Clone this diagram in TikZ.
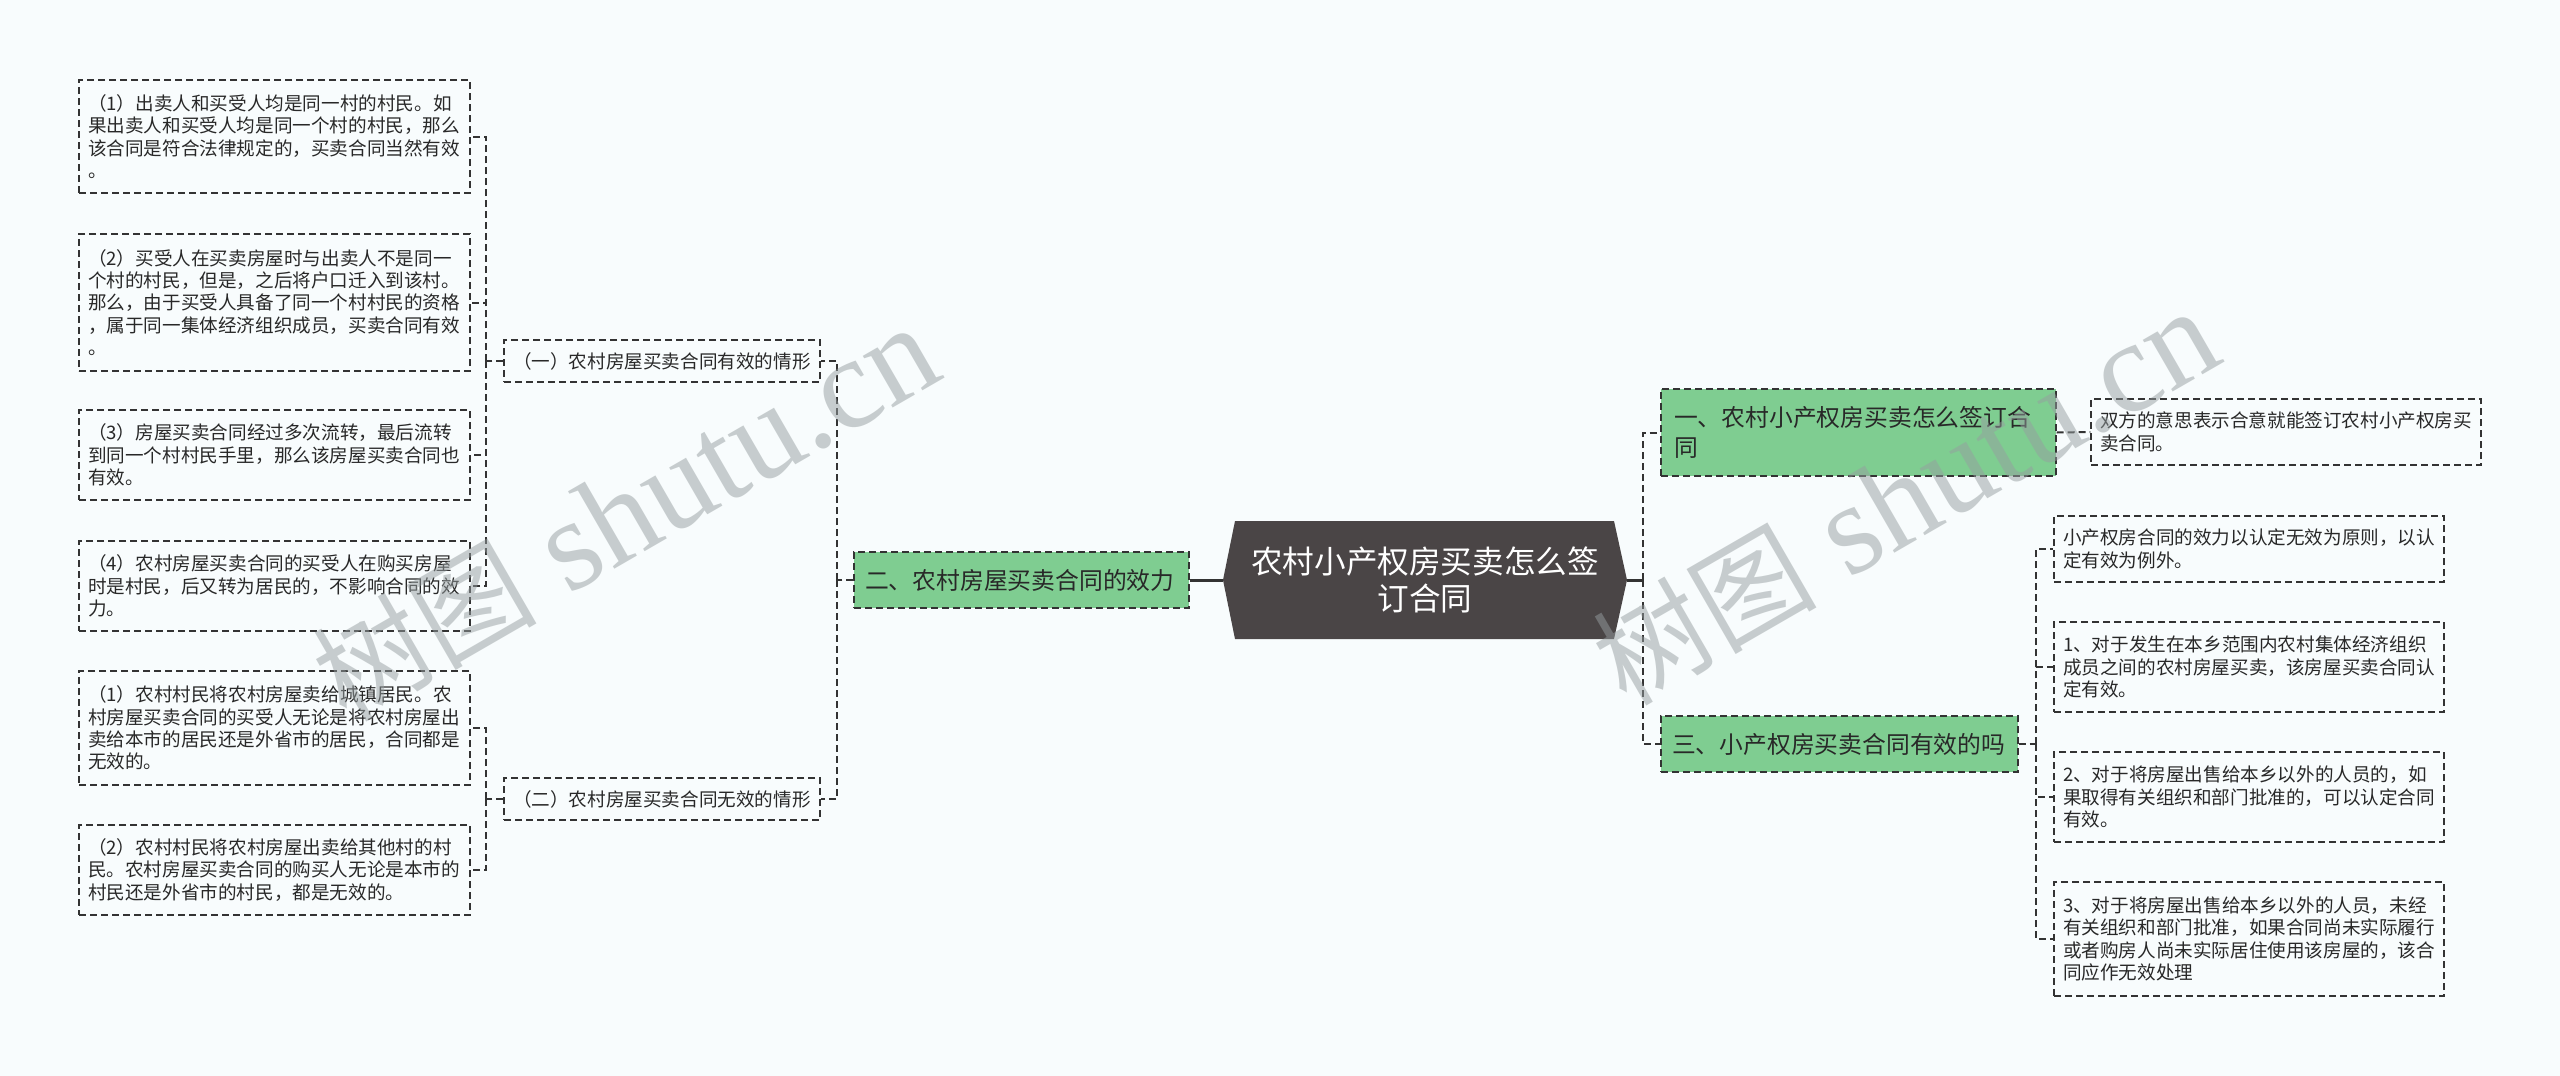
\documentclass[tikz,border=0pt]{standalone}
\usepackage{fontspec}
\setmainfont{Noto Sans CJK SC}
\newfontfamily\wmserif{Liberation Serif}
\newfontfamily\wmcjk{Noto Sans CJK SC}
\definecolor{bgc}{RGB}{248,252,253}
\definecolor{linec}{RGB}{51,51,51}
\definecolor{txtc}{RGB}{40,40,40}
\definecolor{greenc}{RGB}{127,205,145}
\definecolor{rootc}{RGB}{74,69,70}
\definecolor{wmc}{RGB}{150,158,160}
\begin{document}
\begin{tikzpicture}[x=0.5pt,y=-0.5pt,
  dsh/.style={dash pattern=on 3.5pt off 2pt},
  box/.style={draw=linec, dsh, line width=0.7pt, text=txtc, align=left, inner ysep=0pt, anchor=center},
  leaf/.style={box, font=\fontsize{9.3pt}{11.15pt}\selectfont, inner xsep=4.5pt},
  lleaf/.style={leaf, text width=186.5pt},
  rleaf/.style={leaf, text width=186pt},
  subbox/.style={leaf, text width=149pt, minimum height=21pt},
  grn/.style={box, fill=greenc, font=\fontsize{11.9pt}{15pt}\selectfont, inner xsep=5.5pt},
  conn/.style={draw=linec, line width=1pt, dsh},
  solidc/.style={draw=linec, line width=1.5pt},
  wm/.style={text=wmc, opacity=0.5, rotate=30, inner sep=0pt, anchor=base west}
]
\fill[bgc] (0,0) rectangle (2560,1076);
\useasboundingbox (0,0) rectangle (2560,1076);

% root
\fill[rootc] (1235,521) -- (1614,521) -- (1627,580) -- (1614,639) -- (1235,639) -- (1223,580) -- cycle;
\node[text=white, align=center, font=\fontsize{15.8pt}{18.5pt}\selectfont] (root) at (1425,580) {农村小产权房买卖怎么签\\订合同};
\coordinate (rootL) at (1223,580);
\coordinate (rootR) at (1627,580);

% left side
\node[grn, text width=156.5pt, minimum height=28pt] (g2) at (1021.5,580) {二、农村房屋买卖合同的效力};
\node[subbox] (s1) at (662,361) {（一）农村房屋买卖合同有效的情形};
\node[subbox] (s2) at (662,799) {（二）农村房屋买卖合同无效的情形};

\node[lleaf, minimum height=56.5pt] (L1) at (274.5,136.5) {（1）出卖人和买受人均是同一村的村民。如\\果出卖人和买受人均是同一个村的村民，那么\\该合同是符合法律规定的，买卖合同当然有效\\。};
\node[lleaf, minimum height=68.5pt] (L2) at (274.5,302.5) {（2）买受人在买卖房屋时与出卖人不是同一\\个村的村民，但是，之后将户口迁入到该村。\\那么，由于买受人具备了同一个村村民的资格\\，属于同一集体经济组织成员，买卖合同有效\\。};
\node[lleaf, minimum height=45pt] (L3) at (274.5,455) {（3）房屋买卖合同经过多次流转，最后流转\\到同一个村村民手里，那么该房屋买卖合同也\\有效。};
\node[lleaf, minimum height=45pt] (L4) at (274.5,586) {（4）农村房屋买卖合同的买受人在购买房屋\\时是村民，后又转为居民的，不影响合同的效\\力。};
\node[lleaf, minimum height=57pt] (L5) at (274.5,728) {（1）农村村民将农村房屋卖给城镇居民。农\\村房屋买卖合同的买受人无论是将农村房屋出\\卖给本市的居民还是外省市的居民，合同都是\\无效的。};
\node[lleaf, minimum height=45pt] (L6) at (274.5,870) {（2）农村村民将农村房屋出卖给其他村的村\\民。农村房屋买卖合同的购买人无论是本市的\\村民还是外省市的村民，都是无效的。};

% right side
\node[grn, inner xsep=6.5pt, text width=184.5pt, minimum height=43.5pt] (g1) at (1858.5,432.5) {一、农村小产权房买卖怎么签订合\\同};
\node[grn, text width=167.5pt, minimum height=28pt] (g3) at (1839.5,744) {三、小产权房买卖合同有效的吗};
\node[rleaf, minimum height=33pt] (d1) at (2286,432) {双方的意思表示合意就能签订农村小产权房买\\卖合同。};
\node[rleaf, minimum height=33pt] (R1) at (2249,549) {小产权房合同的效力以认定无效为原则，以认\\定有效为例外。};
\node[rleaf, minimum height=45pt] (R2) at (2249,667) {1、对于发生在本乡范围内农村集体经济组织\\成员之间的农村房屋买卖，该房屋买卖合同认\\定有效。};
\node[rleaf, minimum height=45pt] (R3) at (2249,797) {2、对于将房屋出售给本乡以外的人员的，如\\果取得有关组织和部门批准的，可以认定合同\\有效。};
\node[rleaf, minimum height=57pt] (R4) at (2249,939) {3、对于将房屋出售给本乡以外的人员，未经\\有关组织和部门批准，如果合同尚未实际履行\\或者购房人尚未实际居住使用该房屋的，该合\\同应作无效处理};

% junctions
\coordinate (jA) at (837,580);
\coordinate (jB) at (486,361);
\coordinate (jC) at (486,799);
\coordinate (jR) at (1643,580);
\coordinate (jD) at (2036,744);

% connectors
\draw[solidc] (rootL) -- (g2.east);
\draw[solidc] (rootR) -- (jR);
\draw[conn] (g2.west) -- (jA);
\draw[conn] (jA) |- (s1.east);
\draw[conn] (jA) |- (s2.east);
\draw[conn] (s1.west) -- (jB);
\draw[conn] (jB) |- (L1.east);
\draw[conn] (jB) |- (L2.east);
\draw[conn] (jB) |- (L3.east);
\draw[conn] (jB) |- (L4.east);
\draw[conn] (s2.west) -- (jC);
\draw[conn] (jC) |- (L5.east);
\draw[conn] (jC) |- (L6.east);
\draw[conn] (jR) |- (g1.west);
\draw[conn] (jR) |- (g3.west);
\draw[conn] (g1.east) -- (d1.west);
\draw[conn] (g3.east) -- (jD);
\draw[conn] (jD) |- (R1.west);
\draw[conn] (jD) |- (R2.west);
\draw[conn] (jD) |- (R3.west);
\draw[conn] (jD) |- (R4.west);

% watermarks
\node[wm] (wm1) at (346,724) {{\wmcjk\fontsize{56pt}{60pt}\selectfont 树图}{\wmserif\fontsize{65pt}{70pt}\selectfont\ shutu.cn}};
\node[wm] (wm2) at (1626,708) {{\wmcjk\fontsize{56pt}{60pt}\selectfont 树图}{\wmserif\fontsize{65pt}{70pt}\selectfont\ shutu.cn}};
\end{tikzpicture}
\end{document}
